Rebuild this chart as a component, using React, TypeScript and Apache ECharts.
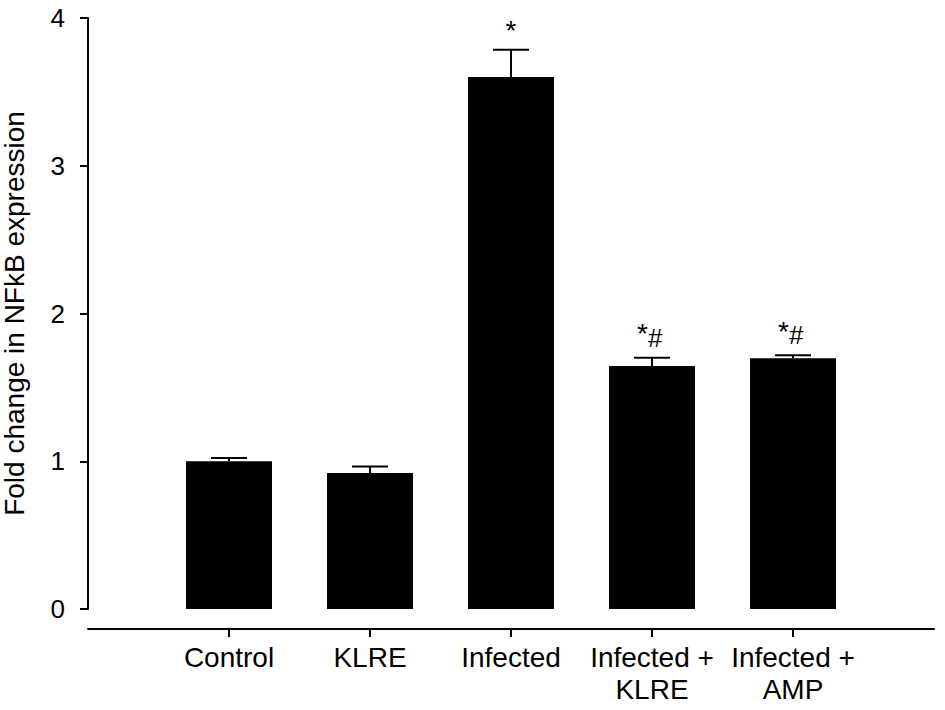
import React, { useEffect, useRef } from "react";
import * as echarts from "echarts";

const categories = ["Control", "KLRE", "Infected", "Infected +\nKLRE", "Infected +\nAMP"];
const means = [1.0, 0.92, 3.6, 1.645, 1.697];
const sems = [0.022, 0.045, 0.185, 0.055, 0.02];
const marks = ["", "", "*", "*#", "*#"];
const yTicks = [0, 1, 2, 3, 4];

const FONT = "'Liberation Sans', Arial, sans-serif";

export default function App() {
  const ref = useRef<HTMLDivElement>(null);
  useEffect(() => {
    if (!ref.current) return;
    const chart = echarts.init(ref.current, undefined, { renderer: "svg" });
    const padded = ["", ...categories, ""];
    const barData = padded.map((_, i) => (i >= 1 && i <= categories.length ? means[i - 1] : null));
    const errData = categories.map((_, i) => [i + 1, means[i], sems[i], i]);
    chart.setOption({
      animation: false,
      backgroundColor: "#fff",
      grid: { left: 88, right: 11, top: 18, bottom: 101, containLabel: false, outerBoundsMode: "none" },
      xAxis: {
        type: "category",
        data: padded,
        boundaryGap: false,
        offset: 20,
        axisLine: { show: true, onZero: false, lineStyle: { color: "#000", width: 2 } },
        axisTick: {
          show: true,
          length: 8,
          lineStyle: { color: "#000", width: 2 },
          interval: (idx: number) => idx >= 1 && idx <= categories.length,
        },
        axisLabel: {
          interval: 0,
          color: "#000",
          fontSize: 28,
          fontFamily: FONT,
          lineHeight: 32,
          margin: 12,
        },
        splitLine: { show: false },
      },
      yAxis: {
        type: "value",
        min: yTicks[0],
        max: yTicks[yTicks.length - 1],
        interval: 1,
        name: "Fold change in NFkB expression",
        nameLocation: "middle",
        nameRotate: 90,
        nameGap: 60,
        nameTextStyle: { color: "#000", fontSize: 28, fontFamily: FONT },
        axisLine: { show: true, lineStyle: { color: "#000", width: 2 } },
        axisTick: { show: true, inside: false, length: 8, lineStyle: { color: "#000", width: 2 } },
        axisLabel: { color: "#000", fontSize: 26, fontFamily: FONT, margin: 23 },
        splitLine: { show: false },
      },
      series: [
        {
          type: "bar",
          data: barData,
          barWidth: 86,
          itemStyle: { color: "#000" },
        },
        {
          type: "custom",
          data: errData,
          z: 5,
          renderItem: (params: any, api: any) => {
            const x = api.value(0);
            const m = api.value(1);
            const e = api.value(2);
            const idx = api.value(3);
            const p0 = api.coord([x, m]);
            const p1 = api.coord([x, m + e]);
            const half = 18;
            const children: any[] = [
              { type: "line", shape: { x1: p0[0], y1: p0[1], x2: p1[0], y2: p1[1] }, style: { stroke: "#000", lineWidth: 2 } },
              { type: "line", shape: { x1: p1[0] - half, y1: p1[1], x2: p1[0] + half, y2: p1[1] }, style: { stroke: "#000", lineWidth: 2 } },
            ];
            const mk = marks[idx];
            if (mk === "*") {
              children.push({
                type: "text",
                x: p1[0],
                y: p1[1] - 19,
                style: { text: "*", fill: "#000", fontSize: 28, fontFamily: FONT, textAlign: "center", textVerticalAlign: "middle" },
              });
            } else if (mk === "*#") {
              children.push({
                type: "text",
                x: p1[0] - 4,
                y: p1[1] - 24,
                style: { text: "*", fill: "#000", fontSize: 28, fontFamily: FONT, textAlign: "right", textVerticalAlign: "middle" },
              });
              children.push({
                type: "text",
                x: p1[0] - 4,
                y: p1[1] - 20,
                style: { text: "#", fill: "#000", fontSize: 26, fontFamily: FONT, textAlign: "left", textVerticalAlign: "middle" },
              });
            }
            return { type: "group", children };
          },
        },
      ],
    });
    return () => chart.dispose();
  }, []);
  return <div ref={ref} style={{ position: "fixed", left: 0, top: 0, width: 945, height: 710 }} />;
}
